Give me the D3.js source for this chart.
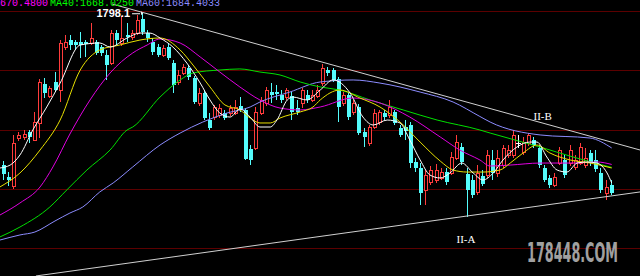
<!DOCTYPE html>
<html><head><meta charset="utf-8">
<script src="https://cdn.jsdelivr.net/npm/d3@7"></script>
<style>html,body{margin:0;padding:0;background:#000;overflow:hidden}svg{display:block}</style>
</head><body>
<svg width="640" height="276"></svg>
<script>
// daily candles
const opens = [1670.0,1659.9,1652.3,1692.8,1693.7,1697.9,1691.1,1705.5,1738.4,1728.3,1740.1,1733.3,1769.6,1775.5,1773.8,1773.8,1773.8,1773.0,1773.8,1769.6,
  1762.9,1756.1,1781.4,1773.0,1779.7,1778.1,1781.4,1793.2,1781.4,1773.8,1769.6,1762.9,1769.6,1756.1,1740.1,1747.7,1751.9,1743.5,1722.4,1730.8,
  1708.0,1710.5,1712.2,1713.9,1713.9,1713.9,1719.8,1716.5,1683.5,1684.4,1713.9,1722.4,1731.6,1731.6,1729.1,1727.4,1728.3,1718.1,1722.4,1729.1,
  1724.9,1728.3,1739.2,1750.2,1750.2,1742.6,1722.4,1729.1,1714.8,1719.0,1697.9,1688.6,1702.1,1706.3,1713.9,1712.2,1714.8,1701.3,1702.1,1703.8,
  1672.6,1667.5,1649.0,1655.7,1657.4,1659.1,1664.1,1663.3,1675.9,1685.2,1662.4,1657.4,1647.3,1660.8,1661.6,1674.3,1663.3,1670.0,1678.5,1678.5,
  1688.6,1681.0,1688.6,1691.1,1684.4,1667.5,1659.1,1653.2,1671.7,1674.3,1671.7,1668.4,1671.7,1670.0,1680.2,1674.3,1663.3,1646.4,1653.2];
const closes = [1662.4,1657.4,1688.6,1695.4,1696.2,1693.7,1706.3,1740.1,1730.8,1735.0,1733.3,1773.0,1773.8,1771.3,1771.3,1771.3,1772.2,1777.2,1764.6,1764.6,
  1754.4,1781.4,1775.5,1777.2,1778.1,1781.4,1792.4,1782.3,1777.2,1765.4,1762.9,1768.8,1760.3,1737.6,1746.0,1752.7,1744.3,1723.2,1730.8,1709.7,
  1701.3,1719.0,1718.1,1709.7,1718.1,1719.0,1716.5,1675.1,1674.3,1714.8,1724.9,1733.3,1729.1,1730.0,1724.9,1733.3,1714.8,1714.8,1733.3,1724.9,
  1729.1,1733.3,1751.9,1747.7,1741.8,1719.0,1729.1,1710.5,1722.4,1697.0,1693.7,1702.1,1713.9,1714.8,1710.5,1719.0,1705.5,1695.4,1698.7,1671.7,
  1667.5,1646.4,1661.6,1665.8,1665.8,1664.1,1655.7,1676.8,1689.4,1672.6,1649.0,1644.7,1663.3,1654.0,1678.5,1663.3,1675.9,1684.4,1682.7,1695.4,
  1688.6,1689.4,1695.4,1686.9,1670.0,1657.4,1653.2,1659.9,1682.7,1661.6,1682.7,1674.3,1685.2,1675.9,1671.7,1666.7,1649.0,1651.5,1646.4];
const highs = [1673.4,1664.1,1695.4,1697.9,1699.6,1699.6,1714.8,1742.6,1743.5,1736.7,1748.5,1775.5,1779.7,1779.7,1775.5,1782.3,1775.5,1789.9,1775.5,1771.3,
  1767.1,1784.0,1784.0,1795.8,1789.9,1784.0,1796.6,1798.1,1784.0,1777.2,1772.2,1771.3,1773.0,1758.6,1750.2,1755.3,1754.4,1745.1,1735.0,1733.3,
  1713.9,1720.7,1721.5,1716.5,1720.7,1724.9,1727.4,1718.1,1686.9,1719.0,1727.4,1735.9,1739.2,1737.6,1733.3,1735.0,1731.6,1724.9,1735.0,1733.3,
  1733.3,1737.6,1755.3,1752.7,1751.9,1744.3,1731.6,1730.8,1724.9,1721.5,1701.3,1703.8,1717.3,1716.5,1716.5,1724.9,1716.5,1703.8,1708.0,1706.3,
  1675.9,1671.7,1665.8,1669.2,1670.9,1667.5,1667.5,1681.0,1695.4,1688.6,1667.5,1661.6,1670.0,1665.8,1682.7,1682.7,1682.7,1686.9,1686.9,1699.6,
  1695.4,1693.7,1697.0,1693.7,1686.9,1670.0,1661.6,1663.3,1685.2,1678.5,1686.9,1678.5,1688.6,1684.4,1682.7,1682.7,1667.5,1657.4,1657.4];
const lows = [1657.4,1652.3,1649.8,1690.3,1691.1,1688.6,1690.3,1692.8,1726.6,1726.6,1731.6,1723.2,1767.1,1767.1,1767.1,1760.3,1761.2,1771.3,1762.9,1762.0,
  1741.8,1754.4,1771.3,1770.5,1773.8,1775.5,1779.7,1779.7,1773.8,1762.9,1761.2,1761.2,1758.6,1730.8,1737.6,1746.0,1741.8,1721.5,1719.8,1708.0,
  1699.6,1708.0,1709.7,1708.0,1711.4,1712.2,1714.8,1674.3,1670.0,1682.7,1712.2,1719.8,1722.4,1724.9,1722.4,1724.9,1708.0,1712.2,1718.1,1722.4,
  1723.2,1726.6,1736.7,1745.1,1740.1,1706.3,1719.8,1708.0,1712.2,1695.4,1685.2,1686.1,1700.4,1703.8,1708.0,1709.7,1703.8,1693.7,1691.1,1667.5,
  1664.1,1636.3,1636.3,1653.2,1654.9,1657.4,1653.2,1661.6,1674.3,1670.0,1626.2,1642.2,1644.7,1652.3,1659.1,1657.4,1659.9,1667.5,1675.9,1675.9,
  1684.4,1678.5,1686.1,1684.4,1667.5,1655.7,1650.6,1651.5,1670.0,1659.1,1669.2,1665.8,1670.0,1667.5,1669.2,1664.1,1646.4,1640.5,1644.7];

// moving averages as [bar index, price]
const ma5 = [[-0.8,1667.5],[1.2,1670.0],[3.1,1678.5],[5.6,1699.6],[8.3,1719.0],[10.9,1739.2],[14.8,1771.3],[18.6,1773.0],[20.6,1769.6],[23.9,1777.2],
  [26.4,1781.4],[28.3,1781.4],[30.3,1777.2],[32.8,1769.6],[35.5,1756.1],[38.1,1739.2],[40.0,1724.9],[41.9,1713.9],[43.9,1710.5],[45.8,1717.3],
  [47.8,1710.5],[49.7,1702.1],[51.7,1702.1],[53.0,1708.0],[55.0,1724.9],[56.1,1727.4],[58.8,1724.9],[61.4,1733.3],[63.9,1741.8],[67.2,1730.8],
  [69.7,1710.5],[71.7,1703.8],[74.4,1708.0],[76.9,1705.5],[78.8,1691.1],[80.8,1674.3],[82.7,1661.6],[84.7,1659.1],[86.6,1663.3],[88.9,1671.7],
  [91.1,1663.3],[93.0,1657.4],[95.0,1663.3],[96.9,1674.3],[99.6,1685.2],[102.1,1689.4],[103.5,1689.4],[105.4,1676.8],[107.4,1665.8],[109.3,1664.1],
  [111.3,1671.7],[113.2,1672.6],[115.1,1671.7],[117.1,1663.3],[118,1654.9]];
const ma10 = [[-0.8,1651.5],[3.1,1663.3],[7.0,1682.7],[10.9,1708.0],[14.8,1750.2],[18.6,1767.1],[22.5,1771.3],[26.4,1775.5],[30.3,1777.2],[34.2,1767.1],
  [36.7,1754.4],[40.0,1735.9],[42.9,1720.7],[45.8,1716.5],[47.8,1709.7],[49.7,1705.5],[51.7,1705.5],[53.6,1709.7],[57.5,1714.8],[60.0,1719.0],
  [61.4,1724.9],[65.2,1733.3],[69.1,1726.6],[73.0,1719.0],[76.9,1706.3],[80.8,1689.4],[84.7,1673.4],[87.2,1665.8],[89.9,1664.1],[93.0,1664.1],
  [96.3,1665.8],[98.3,1671.7],[100.8,1680.2],[103.5,1686.9],[106.0,1680.2],[109.9,1674.3],[113.8,1671.7],[118,1667.5]];
const ma20 = [[-0.8,1627.8],[3.1,1638.0],[7.0,1651.5],[9.5,1668.4],[12.8,1696.2],[16.7,1724.9],[20.6,1747.7],[25.0,1764.6],[27.8,1771.3],[30.3,1776.4],
  [34.2,1773.0],[38.1,1761.2],[41.9,1748.5],[45.8,1735.9],[49.7,1724.9],[53.6,1718.1],[57.5,1716.5],[61.4,1719.0],[67.8,1726.6],[73.0,1722.4],
  [78.8,1710.5],[84.7,1693.7],[88.5,1682.7],[92.4,1674.3],[94.4,1669.2],[98.3,1670.0],[104.1,1671.7],[110.5,1671.7],[115.1,1672.6],[118,1670.5]];
const ma40 = [[-0.8,1609.3],[3.1,1617.7],[8.9,1634.6],[12.2,1649.0],[16.1,1665.8],[20.6,1682.7],[23.9,1699.6],[25.0,1702.1],[30.3,1727.4],[34.2,1741.8],
  [36.7,1747.7],[41.9,1750.2],[45.8,1751.1],[49.7,1748.5],[53.6,1746.0],[57.5,1740.1],[61.4,1735.9],[65.2,1733.3],[71.1,1724.9],[77.5,1716.5],
  [84.1,1708.0],[92.4,1699.6],[94.4,1697.0],[104.1,1685.2],[110.5,1676.8],[118,1668.0]];
const ma60 = [[-0.8,1606.7],[3.1,1611.0],[6.0,1613.5],[9.9,1622.8],[12.8,1629.5],[15.3,1634.6],[18.6,1647.3],[21.2,1654.9],[25.0,1668.4],[30.3,1686.9],
  [34.2,1697.0],[38.6,1706.3],[43.3,1713.9],[47.8,1719.0],[49.7,1723.2],[55.5,1731.6],[61.4,1740.1],[67.8,1741.8],[73.0,1739.2],[80.8,1731.6],
  [87.2,1723.2],[92.4,1711.0],[94.4,1706.3],[104.1,1695.4],[113.8,1692.8],[118,1684.4]];

const gridPrices = [1800, 1750, 1700, 1650, 1600];
const legend = [['MA20:1670.4800', '#ff00ff'], ['MA40:1668.0250', '#00ff00'], ['MA60:1684.4033', '#8c8cff']];
// triangle lines as [bar index, price]
const upperLine = [[21, 1805.9], [123.5, 1682.7]];
const lowerLine = [[6.2, 1576.4], [123.5, 1647.3]];

const svg = d3.select('svg');
const W = +svg.attr('width'), H = +svg.attr('height');
svg.append('rect').attr('width', W).attr('height', H).attr('fill', '#000');

const x = d3.scaleLinear().domain([0, 118]).range([4, 611.7]);
const y = d3.scaleLinear().domain([1600, 1800]).range([248, 11]);

// grid
svg.selectAll('line.grid').data(gridPrices).enter().append('line')
  .attr('x1', 0).attr('x2', W)
  .attr('y1', d => Math.round(y(d)) + 0.5).attr('y2', d => Math.round(y(d)) + 0.5)
  .attr('stroke', '#5c0000').attr('stroke-width', 1);

// candles
const gc = svg.append('g').attr('shape-rendering', 'crispEdges');
opens.forEach((o, i) => {
  const c = closes[i];
  const cx = Math.round(x(i));
  const top = Math.round(y(Math.max(o, c)));
  const bot = Math.round(y(Math.min(o, c)));
  const yh = Math.round(y(highs[i])), yl = Math.round(y(lows[i]));
  if (c > o) {
    const col = '#ff3c3c';
    gc.append('line').attr('x1', cx - 0.5).attr('x2', cx - 0.5).attr('y1', yh).attr('y2', top).attr('stroke', col);
    gc.append('line').attr('x1', cx - 0.5).attr('x2', cx - 0.5).attr('y1', bot).attr('y2', yl).attr('stroke', col);
    gc.append('rect').attr('x', cx - 1.5).attr('y', top + 0.5).attr('width', 3).attr('height', Math.max(bot - top, 1))
      .attr('fill', '#000').attr('stroke', col);
  } else if (c < o) {
    const col = '#54fcfc';
    gc.append('line').attr('x1', cx - 0.5).attr('x2', cx - 0.5).attr('y1', yh).attr('y2', yl).attr('stroke', col);
    gc.append('rect').attr('x', cx - 2).attr('y', top).attr('width', 4).attr('height', Math.max(bot - top, 1)).attr('fill', col);
  } else {
    const col = '#ffffff';
    gc.append('line').attr('x1', cx - 0.5).attr('x2', cx - 0.5).attr('y1', yh).attr('y2', yl).attr('stroke', col);
    gc.append('line').attr('x1', cx - 3).attr('x2', cx + 2).attr('y1', top + 0.5).attr('y2', top + 0.5).attr('stroke', col);
  }
});

// moving averages
const line = d3.line().x(d => x(d[0])).y(d => y(d[1])).curve(d3.curveMonotoneX);
[[ma60, '#8c8cff'], [ma40, '#00e000'], [ma20, '#e000e0'], [ma10, '#e8e000'], [ma5, '#ffffff']].forEach(([d, col]) => {
  svg.append('path').attr('d', line(d)).attr('fill', 'none').attr('stroke', col).attr('stroke-width', 1);
});

// triangle
const straight = d3.line().x(d => x(d[0])).y(d => y(d[1]));
[upperLine, lowerLine].forEach(d => {
  svg.append('path').attr('d', straight(d)).attr('stroke', '#d0d0d0').attr('stroke-width', 1).attr('fill', 'none');
});

// labels
svg.append('text').attr('x', x(27) - 13).attr('y', y(1798.1) + 4).attr('text-anchor', 'end')
  .attr('fill', '#fff').attr('font-family', 'Liberation Sans, Arial, sans-serif').attr('font-weight', 'bold').attr('font-size', 11)
  .text('1798.1');
svg.append('line').attr('x1', x(27) - 11).attr('x2', x(27) - 3).attr('y1', y(1798.1) + 0.5).attr('y2', y(1798.1) + 0.5)
  .attr('stroke', '#fff');
svg.append('path').attr('d', `M${x(27) - 2},${y(1798.1) - 2} l0,4 l2,-2 z`).attr('fill', '#fff');

svg.append('text').attr('x', x(104.6)).attr('y', y(1712.2) + 5).attr('text-anchor', 'middle')
  .attr('fill', '#fff').attr('font-family', 'Liberation Serif, serif').attr('font-size', 11).text('II-B');
svg.append('text').attr('x', x(89.7)).attr('y', y(1626.2) + 26).attr('text-anchor', 'middle')
  .attr('fill', '#fff').attr('font-family', 'Liberation Serif, serif').attr('font-size', 11).text('II-A');

// legend on top, partly cut by the edge as in the original
const lg = svg.append('text').attr('x', -36).attr('y', 5.5)
  .attr('font-family', 'Liberation Mono, DejaVu Sans Mono, monospace').attr('font-size', 10);
legend.forEach(([t, col], i) => {
  lg.append('tspan').attr('fill', col).attr('dx', i ? 2 : 0).text(t);
});

// watermark
svg.append('text').attr('x', 527).attr('y', 262)
  .attr('font-family', 'Liberation Sans Narrow, DejaVu Sans Condensed, sans-serif').attr('font-weight', 'bold').attr('font-size', 27)
  .attr('textLength', 91).attr('lengthAdjust', 'spacingAndGlyphs')
  .attr('fill', '#a0a0a0').text('178448.COM');
</script>
</body></html>
